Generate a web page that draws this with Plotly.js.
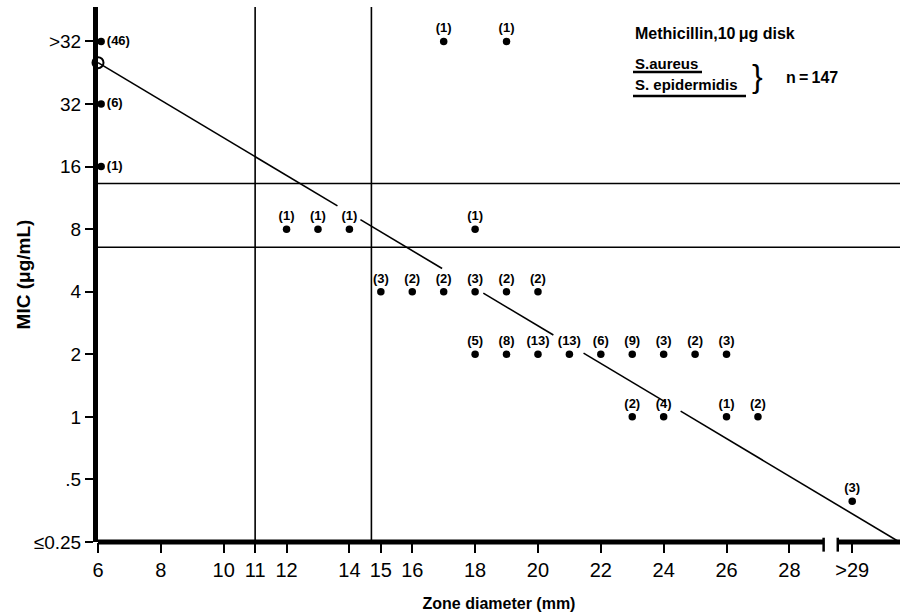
<!DOCTYPE html>
<html>
<head>
<meta charset="utf-8">
<script src="https://cdn.plot.ly/plotly-3.0.1.min.js"></script>
<style>html,body{margin:0;padding:0;background:#fff;}#chart{width:901px;height:615px;}</style>
</head>
<body>
<div id="chart"></div>
<script>
// ---- Data ----
const xTickVals = [6, 8, 10, 11, 12, 14, 15, 16, 18, 20, 22, 24, 26, 28, 30];
const xTickText = ['6', '8', '10', '11', '12', '14', '15', '16', '18', '20', '22', '24', '26', '28', '>29'];
const yTickVals = [0, 1, 2, 3, 4, 5, 6, 7, 8];
const yTickText = ['\u22640.25', '.5', '1', '2', '4', '8', '16', '32', '>32'];

// zone diameter (mm), MIC level (index on the log2 scale above), isolate counts
const zone     = [6.1, 6.1, 6.1, 17, 19, 12, 13, 14, 18, 15, 16, 17, 18, 19, 20, 18, 19, 20, 21, 22, 23, 24, 25, 26, 23, 24, 26, 27, 30];
const micLevel = [8, 7, 6, 8, 8, 5, 5, 5, 5, 4, 4, 4, 4, 4, 4, 3, 3, 3, 3, 3, 3, 3, 3, 3, 2, 2, 2, 2, 0.65];
const counts   = [46, 6, 1, 1, 1, 1, 1, 1, 1, 3, 2, 2, 3, 2, 2, 5, 8, 13, 13, 6, 9, 3, 2, 3, 2, 4, 1, 2, 3];

// regression line (zone, MIC level) end points and its drawn segments (gaps around labels)
const regStart = [6, 7.66];
const regEnd = [31.5, 0];
const regSegFrom = [6, 14.35, 18.26, 21.45, 24.54];
const regSegTo   = [13.62, 16.95, 20.49, 24.06, 31.5];

// breakpoints
const zoneBreakpoints = [11, 14.7];
const micBreakpoints = [4.71, 5.73];
// axis break on zone axis
const axisBreak = [29.09, 29.54];

// ---- Build ----
const slope = (regEnd[1] - regStart[1]) / (regEnd[0] - regStart[0]);
const regY = x => regStart[1] + slope * (x - regStart[0]);
const rx = [], ry = [];
regSegFrom.forEach((a, i) => {
  rx.push(a, regSegTo[i], null);
  ry.push(regY(a), regY(regSegTo[i]), null);
});

const FONT = '"Liberation Sans", Arial, Helvetica, sans-serif';
const xMin = 6, xMax = 31.52, yMin = 0, yMax = 8.55;

const traces = [
  {
    x: rx, y: ry, mode: 'lines', type: 'scatter',
    line: {color: '#000', width: 1.6}, hoverinfo: 'skip', showlegend: false, cliponaxis: false
  },
  {
    x: [regStart[0]], y: [regStart[1]], mode: 'markers', type: 'scatter',
    marker: {symbol: 'circle-open', size: 11, color: '#000', line: {width: 2, color: '#000'}},
    showlegend: false, cliponaxis: false, hoverinfo: 'skip'
  },
  {
    x: zone, y: micLevel, mode: 'markers+text', type: 'scatter',
    text: counts.map(c => '(' + c + ')'),
    textposition: zone.map(z => z < 7 ? 'middle right' : 'top center'),
    textfont: {family: FONT, size: 13, color: '#000', weight: 'bold'},
    marker: {size: 7.5, color: '#000'},
    showlegend: false, cliponaxis: false
  }
];

const shapes = [];
zoneBreakpoints.forEach(v => shapes.push({type: 'line', xref: 'x', yref: 'paper', x0: v, x1: v, y0: 0, y1: 1, line: {color: '#000', width: 1.6}}));
micBreakpoints.forEach(v => shapes.push({type: 'line', xref: 'paper', yref: 'y', x0: 0, x1: 1, y0: v, y1: v, line: {color: '#000', width: 1.6}}));
// bottom axis line with break
shapes.push({type: 'line', xref: 'x', yref: 'paper', x0: xMin - 0.08, x1: axisBreak[0], y0: 0, y1: 0, line: {color: '#000', width: 5}});
shapes.push({type: 'line', xref: 'x', yref: 'paper', x0: axisBreak[1], x1: xMax, y0: 0, y1: 0, line: {color: '#000', width: 5}});
axisBreak.forEach(v => shapes.push({type: 'line', xref: 'x', yref: 'paper', x0: v, x1: v, y0: 0.008, y1: -0.018, line: {color: '#000', width: 2.5}}));

// helper: page pixels -> paper coords
const L = 98, T = 7, W = 802, H = 535;
const px = p => (p - L) / W;
const py = p => (T + H - p) / H;

// underlines for the species names
shapes.push({type: 'line', xref: 'paper', yref: 'paper', x0: px(633), x1: px(702), y0: py(72), y1: py(72), line: {color: '#000', width: 2.5}});
shapes.push({type: 'line', xref: 'paper', yref: 'paper', x0: px(633), x1: px(746), y0: py(96), y1: py(96), line: {color: '#000', width: 2.5}});

const annotations = [
  {text: 'Methicillin,10\u202F\u03BCg disk', xref: 'paper', yref: 'paper', x: px(633), y: py(33), xanchor: 'left', yanchor: 'middle', showarrow: false, font: {family: FONT, size: 16, color: '#000', weight: 'bold'}},
  {text: 'S.aureus', xref: 'paper', yref: 'paper', x: px(633), y: py(63), xanchor: 'left', yanchor: 'middle', showarrow: false, font: {family: FONT, size: 15, color: '#000', weight: 'bold'}},
  {text: 'S. epidermidis', xref: 'paper', yref: 'paper', x: px(633), y: py(85), xanchor: 'left', yanchor: 'middle', showarrow: false, font: {family: FONT, size: 15, color: '#000', weight: 'bold'}},
  {text: '}', xref: 'paper', yref: 'paper', x: px(757), y: py(76), xanchor: 'center', yanchor: 'middle', showarrow: false, font: {family: FONT, size: 32, color: '#000'}},
  {text: 'n\u2009=\u2009147', xref: 'paper', yref: 'paper', x: px(812), y: py(77), xanchor: 'center', yanchor: 'middle', showarrow: false, font: {family: FONT, size: 16, color: '#000', weight: 'bold'}}
];

const layout = {
  width: 901, height: 615,
  margin: {l: L, r: 901 - L - W, t: T, b: 615 - T - H, pad: 0},
  paper_bgcolor: '#fff', plot_bgcolor: '#fff',
  font: {family: FONT, color: '#000'},
  showlegend: false,
  xaxis: {
    range: [xMin, xMax], showgrid: false, zeroline: false, showline: false,
    ticks: 'outside', ticklen: 10, tickwidth: 2, tickcolor: '#000',
    tickvals: xTickVals, ticktext: xTickText,
    tickfont: {family: FONT, size: 20, color: '#000'},
    title: {text: 'Zone diameter (mm)', font: {family: FONT, size: 16, color: '#000', weight: 'bold'}, standoff: 17}
  },
  yaxis: {
    range: [yMin, yMax], showgrid: false, zeroline: false,
    showline: true, linewidth: 5, linecolor: '#000',
    ticks: 'outside', ticklen: 8, tickwidth: 2, tickcolor: '#000',
    tickvals: yTickVals, ticktext: yTickText,
    tickfont: {family: FONT, size: 19, color: '#000'},
    title: {text: 'MIC (\u03BCg/mL)', font: {family: FONT, size: 19, color: '#000', weight: 'bold'}, standoff: 0}
  },
  shapes: shapes,
  annotations: annotations
};

Plotly.newPlot('chart', traces, layout, {displayModeBar: false, staticPlot: true});
</script>
</body>
</html>
